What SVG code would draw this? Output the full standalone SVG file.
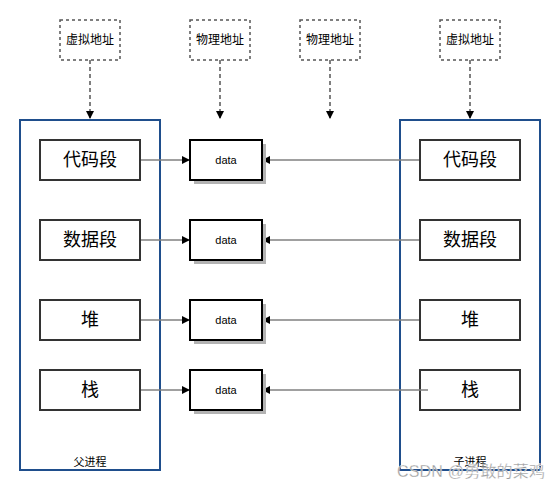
<svg xmlns="http://www.w3.org/2000/svg" width="560" height="490" viewBox="0 0 560 490">
<defs>
<style>
.addr{fill:#fff;stroke:#555;stroke-width:1.5;stroke-dasharray:3 3}
.addrt{font-family:"Noto Sans CJK SC","Liberation Sans",sans-serif;font-size:12px;fill:#000;text-anchor:middle}
.proc{fill:none;stroke:#1f4e8c;stroke-width:2}
.proct{font-family:"Noto Sans CJK SC","Liberation Sans",sans-serif;font-size:11px;fill:#000;text-anchor:middle}
.seg{fill:#fff;stroke:#333;stroke-width:2}
.segt{font-family:"Noto Sans CJK SC","Liberation Sans",sans-serif;font-size:18px;fill:#000;text-anchor:middle}
.data{fill:#fff;stroke:#000;stroke-width:2}
.shadow{fill:#b3b3b3;stroke:none}
.datat{font-family:"Liberation Sans",Arial,sans-serif;font-size:11px;fill:#000;text-anchor:middle}
.dash{stroke:#555;stroke-width:1.5;stroke-dasharray:4 3;fill:none}
.conn{stroke:#808080;stroke-width:1.5;fill:none}
</style>
<marker id="ah" markerWidth="8" markerHeight="8" refX="7" refY="4" orient="auto" markerUnits="userSpaceOnUse">
<path d="M0,0 L8,4 L0,8 Z" fill="#000"/>
</marker>
</defs>

<g id="parent">
<rect class="proc" x="20" y="120" width="140" height="350"/>
<text class="proct" x="90" y="466">父进程</text>
</g>
<g id="child">
<rect class="proc" x="400" y="120" width="140" height="350"/>
<text class="proct" x="470" y="466">子进程</text>
</g>

<g id="va1"><rect class="addr" x="60" y="20" width="60" height="40"/><text class="addrt" x="90" y="44">虚拟地址</text></g>
<g id="pa1"><rect class="addr" x="190" y="20" width="60" height="40"/><text class="addrt" x="220" y="44">物理地址</text></g>
<g id="pa2"><rect class="addr" x="300" y="20" width="60" height="40"/><text class="addrt" x="330" y="44">物理地址</text></g>
<g id="va2"><rect class="addr" x="440" y="20" width="60" height="40"/><text class="addrt" x="470" y="44">虚拟地址</text></g>

<g id="connectors">
<path class="dash" d="M90,60 V118" marker-end="url(#ah)"/>
<path class="dash" d="M220,60 V118" marker-end="url(#ah)"/>
<path class="dash" d="M330,60 V118" marker-end="url(#ah)"/>
<path class="dash" d="M470,60 V118" marker-end="url(#ah)"/>
<path class="conn" d="M140,160 H189" marker-end="url(#ah)"/>
<path class="conn" d="M140,240 H189" marker-end="url(#ah)"/>
<path class="conn" d="M140,320 H189" marker-end="url(#ah)"/>
<path class="conn" d="M140,390 H189" marker-end="url(#ah)"/>
<path class="conn" d="M420,160 H263" marker-end="url(#ah)"/>
<path class="conn" d="M420,240 H263" marker-end="url(#ah)"/>
<path class="conn" d="M420,320 H263" marker-end="url(#ah)"/>
</g>

<g id="l-code"><rect class="seg" x="40" y="140" width="100" height="40"/><text class="segt" x="90" y="166">代码段</text></g>
<g id="l-data"><rect class="seg" x="40" y="220" width="100" height="40"/><text class="segt" x="90" y="246">数据段</text></g>
<g id="l-heap"><rect class="seg" x="40" y="300" width="100" height="40"/><text class="segt" x="90" y="326">堆</text></g>
<g id="l-stack"><rect class="seg" x="40" y="370" width="100" height="40"/><text class="segt" x="90" y="396">栈</text></g>

<g id="r-code"><rect class="seg" x="420" y="140" width="100" height="40"/><text class="segt" x="470" y="166">代码段</text></g>
<g id="r-data"><rect class="seg" x="420" y="220" width="100" height="40"/><text class="segt" x="470" y="246">数据段</text></g>
<g id="r-heap"><rect class="seg" x="420" y="300" width="100" height="40"/><text class="segt" x="470" y="326">堆</text></g>
<g id="r-stack"><rect class="seg" x="420" y="370" width="100" height="40"/><text class="segt" x="470" y="396">栈</text></g>

<g id="stackconn"><path class="conn" d="M428,390 H263" marker-end="url(#ah)"/></g>

<g id="d1"><rect class="shadow" x="194" y="144" width="72" height="40"/><rect class="data" x="190" y="140" width="72" height="40"/><text class="datat" x="226" y="164">data</text></g>
<g id="d2"><rect class="shadow" x="194" y="224" width="72" height="40"/><rect class="data" x="190" y="220" width="72" height="40"/><text class="datat" x="226" y="244">data</text></g>
<g id="d3"><rect class="shadow" x="194" y="304" width="72" height="40"/><rect class="data" x="190" y="300" width="72" height="40"/><text class="datat" x="226" y="324">data</text></g>
<g id="d4"><rect class="shadow" x="194" y="374" width="72" height="40"/><rect class="data" x="190" y="370" width="72" height="40"/><text class="datat" x="226" y="394">data</text></g>

<text x="397" y="477" textLength="148" font-family="'Liberation Sans','Noto Sans CJK SC',sans-serif" font-size="16" fill="#9a9a9a" stroke="#fff" stroke-width="0.3">CSDN @勇敢的菜鸡</text>
</svg>
